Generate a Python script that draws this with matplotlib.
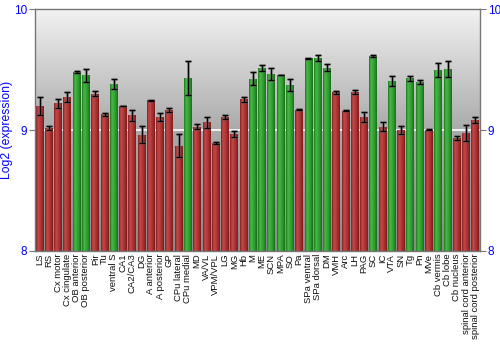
"""Regional expression bar chart (log2 scale) with error bars."""

import numpy as np
import matplotlib
matplotlib.use("Agg")
import matplotlib.pyplot as plt
from matplotlib.colors import LinearSegmentedColormap

regions = [
    "LS", "RS", "Cx motor", "Cx cingulate", "OB anterior", "OB posterior",
    "Pir", "Tu", "ventral S", "CA1", "CA2/CA3", "DG", "A anterior",
    "A posterior", "GP", "CPu lateral", "CPu medial", "MD", "VA/VL",
    "VPM/VPL", "LG", "MG", "Hb", "M", "ME", "SCN", "MPA", "SO", "Pa",
    "SPa ventral", "SPa dorsal", "DM", "VMH", "Arc", "LH", "PAG", "SC", "IC",
    "VTA", "SN", "Tg", "Pn", "MVe", "Cb vermis", "Cb lobe", "Cb nucleus",
    "spinal cord anterior", "spinal cord posterior",
]
expression = [
    9.198, 9.017, 9.22, 9.273, 9.479, 9.452,
    9.30, 9.129, 9.38, 9.198, 9.121, 8.961, 9.248,
    9.107, 9.165, 8.87, 9.43, 9.028, 9.063,
    8.895, 9.107, 8.967, 9.253, 9.424, 9.51, 9.463, 9.455, 9.372, 9.168,
    9.595, 9.598, 9.515, 9.311, 9.16, 9.311, 9.11, 9.609, 9.028,
    9.405, 9.0, 9.427, 9.397, 9.003, 9.496, 9.504, 8.934,
    8.978, 9.083,
]
errors = [
    0.073, 0.014, 0.04, 0.044, 0.007, 0.055,
    0.022, 0.011, 0.044, 0.003, 0.048, 0.072, 0.004,
    0.03, 0.019, 0.096, 0.143, 0.019, 0.045,
    0.01, 0.014, 0.025, 0.022, 0.055, 0.025, 0.047, 0.004, 0.05, 0.003,
    0.004, 0.025, 0.028, 0.014, 0.004, 0.016, 0.04, 0.008, 0.04,
    0.045, 0.036, 0.02, 0.02, 0.005, 0.058, 0.066, 0.017,
    0.065, 0.028,
]
# True where the region is flagged as high (green bar)
high = [
    False, False, False, False, True, True,
    False, False, True, False, False, False, False,
    False, False, False, True, False, False,
    False, False, False, False, True, True, True, True, True, False,
    True, True, True, False, False, False, False, True, False,
    True, False, True, True, False, True, True, False,
    False, False,
]

ymin, ymax = 8, 10
blue = "#0000ff"

plt.rcParams["font.family"] = ["Liberation Sans", "DejaVu Sans"]

red_cmap = LinearSegmentedColormap.from_list(
    "redbar", ["#842020", "#c44848", "#b83c3c", "#a02c2c", "#7a1c1c"])
green_cmap = LinearSegmentedColormap.from_list(
    "greenbar", ["#1e761e", "#48b848", "#38a838", "#2a942a", "#1a6c1a"])

fig = plt.figure(figsize=(5, 3.5), dpi=100)
ax = fig.add_axes([0.07, 0.283, 0.89, 0.691])

n = len(regions)
x = np.arange(n)
ax.set_xlim(-0.5, n - 0.5)
ax.set_ylim(ymin, ymax)

# vertical gray gradient behind the bars: light at the top, darker below
bg = np.linspace(0, 1, 256).reshape(-1, 1)
bg_cmap = LinearSegmentedColormap.from_list(
    "bg", ["#f2f2f2", "#aaaaaa", "#8a8a8a"])
ax.imshow(bg, cmap=bg_cmap, aspect="auto", extent=(-0.5, n - 0.5, ymin, ymax),
          origin="upper", zorder=0)
ax.axhline(9, color="white", lw=1.2, zorder=1)

width = 0.86
bars = ax.bar(x, np.array(expression) - ymin, bottom=ymin, width=width,
              color="none", edgecolor="none", zorder=2)
grad = np.linspace(0, 1, 64).reshape(1, -1)
for bar, is_high in zip(bars, high):
    bx, by = bar.get_x(), bar.get_y()
    im = ax.imshow(grad, cmap=green_cmap if is_high else red_cmap,
                   aspect="auto",
                   extent=(bx, bx + bar.get_width(), by, by + bar.get_height()),
                   zorder=2)
    im.set_clip_path(bar)

ax.errorbar(x, expression, yerr=errors, fmt="none", ecolor="#666666",
            elinewidth=2.2, capsize=2.4, capthick=2.2, alpha=0.5, zorder=3)
ax.errorbar(x, expression, yerr=errors, fmt="none", ecolor="black",
            elinewidth=0.9, capsize=2.2, capthick=0.9, zorder=4)

ax.set_xticks(x)
ax.set_xticklabels(regions, rotation=90, fontsize=6.8, color="#111111")
ax.tick_params(axis="x", length=0, pad=2)

ax.set_yticks([8, 9, 10])
ax.tick_params(axis="y", colors="#777777", labelcolor=blue, labelsize=8.5,
               length=4, direction="out", left=True, right=True,
               labelleft=True, labelright=True, pad=1.5)
ax.set_ylabel("Log2 (expression)", color=blue, fontsize=8.8, labelpad=1)

for side in ["top", "bottom", "left", "right"]:
    ax.spines[side].set_color("#777777")
    ax.spines[side].set_linewidth(1.0)

fig.savefig("out.png", dpi=100)
